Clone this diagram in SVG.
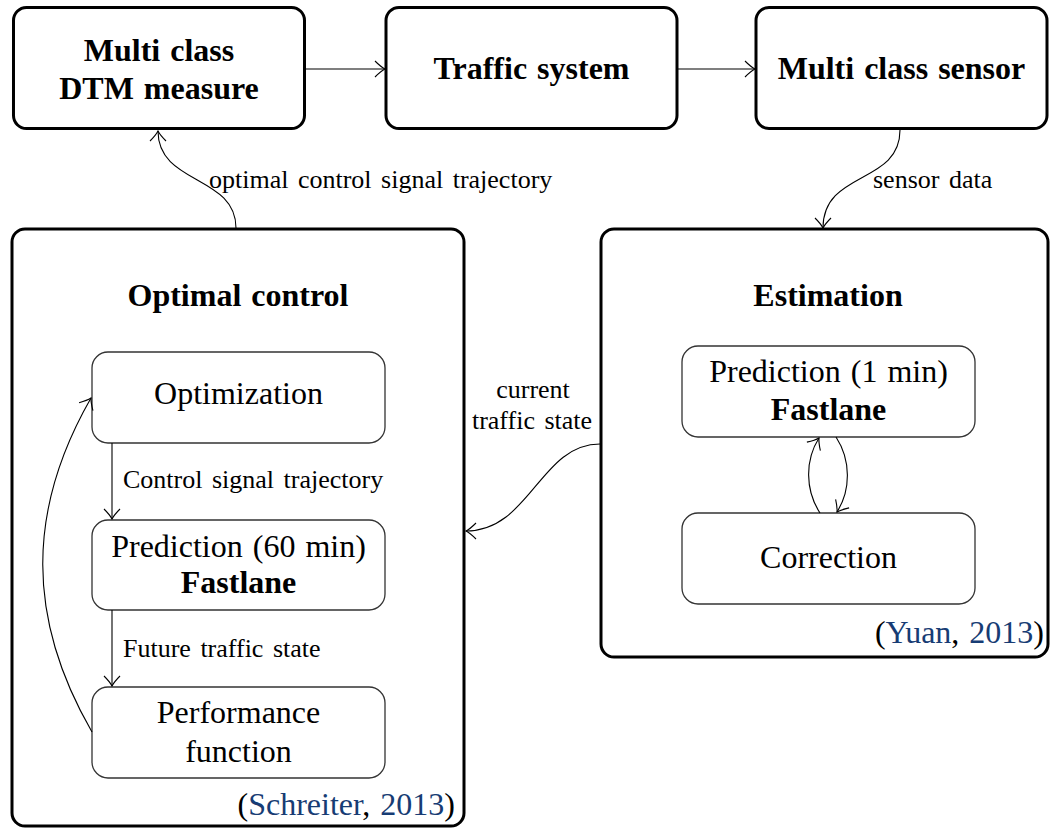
<svg xmlns="http://www.w3.org/2000/svg" width="1050" height="829" viewBox="0 0 1050 829">
  <defs>
    <style>
      .outer { fill: #ffffff; stroke: #000000; stroke-width: 3; }
      .inner { fill: #ffffff; stroke: #333333; stroke-width: 1.3; }
      .big { font-family: "Liberation Serif", "Times New Roman", serif; font-size: 32px; word-spacing: 2px; fill: #000000; }
      .bold { font-weight: bold; }
      .small { font-family: "Liberation Serif", "Times New Roman", serif; font-size: 26px; word-spacing: 3px; fill: #000000; }
      .cite { fill: #173c74; }
      .mid { text-anchor: middle; }
      .end { text-anchor: end; }
      .edge { fill: none; stroke: #000000; stroke-width: 1.1; marker-end: url(#tip); }
    </style>
    <marker id="tip" markerUnits="userSpaceOnUse" markerWidth="24" markerHeight="24" viewBox="-12 -12 24 24" refX="0" refY="0" orient="auto">
      <path d="M -10 -8 C -6 -4 -2 -1 0 0 C -2 1 -6 4 -10 8" fill="none" stroke="#000000" stroke-width="1.1"/>
    </marker>
  </defs>

  <!-- top row -->
  <g id="dtm-measure">
    <rect class="outer" x="13.5" y="7.5" width="291" height="121" rx="13"/>
    <text class="big bold mid" x="159" y="61">Multi class</text>
    <text class="big bold mid" x="159" y="99">DTM measure</text>
  </g>
  <g id="traffic-system">
    <rect class="outer" x="386" y="7.5" width="291" height="121" rx="13"/>
    <text class="big bold mid" x="531.5" y="79">Traffic system</text>
  </g>
  <g id="sensor">
    <rect class="outer" x="756" y="7.5" width="291" height="121" rx="13"/>
    <text class="big bold mid" x="901.5" y="79">Multi class sensor</text>
  </g>

  <!-- optimal control block -->
  <g id="optimal-control">
    <rect class="outer" x="12" y="229" width="452" height="597" rx="13"/>
    <text class="big bold mid" x="238" y="306">Optimal control</text>
    <text class="big end" x="455" y="815">(<tspan class="cite">Schreiter</tspan>, <tspan class="cite">2013</tspan>)</text>
  </g>
  <g id="optimization">
    <rect class="inner" x="92" y="352" width="293" height="91" rx="16"/>
    <text class="big mid" x="238.5" y="404">Optimization</text>
  </g>
  <g id="prediction-60">
    <rect class="inner" x="92" y="520" width="293" height="90" rx="16"/>
    <text class="big mid" x="238.5" y="557">Prediction (60 min)</text>
    <text class="big bold mid" x="238.5" y="593">Fastlane</text>
  </g>
  <g id="performance">
    <rect class="inner" x="92" y="687" width="293" height="91" rx="16"/>
    <text class="big mid" x="238.5" y="723">Performance</text>
    <text class="big mid" x="238.5" y="762">function</text>
  </g>

  <!-- estimation block -->
  <g id="estimation">
    <rect class="outer" x="601" y="229" width="447" height="428" rx="13"/>
    <text class="big bold mid" x="828" y="306">Estimation</text>
    <text class="big end" x="1044" y="643">(<tspan class="cite">Yuan</tspan>, <tspan class="cite">2013</tspan>)</text>
  </g>
  <g id="prediction-1">
    <rect class="inner" x="682" y="346" width="293" height="91" rx="16"/>
    <text class="big mid" x="828.5" y="382">Prediction (1 min)</text>
    <text class="big bold mid" x="828.5" y="420">Fastlane</text>
  </g>
  <g id="correction">
    <rect class="inner" x="682" y="513" width="293" height="91" rx="16"/>
    <text class="big mid" x="828.5" y="568">Correction</text>
  </g>

  <!-- connectors -->
  <g id="connectors">
    <path class="edge" d="M 304 69 L 385 69"/>
    <path class="edge" d="M 677 69 L 755 69"/>
    <path class="edge" d="M 236 228 C 236 175 158 185 158 131"/>
    <path class="edge" d="M 900 130 C 900 185 823 170 823 228"/>
    <path class="edge" d="M 600 444 C 540 444 530 531 466 531"/>
    <path class="edge" d="M 112 443 L 112 519"/>
    <path class="edge" d="M 112 610 L 112 686"/>
    <path class="edge" d="M 92 732 C 26.5 618.6 26.5 510.4 91 398"/>
    <path class="edge" d="M 820 513 C 805 490 805 460 819 438"/>
    <path class="edge" d="M 836 437 C 851 460 851 490 837 512"/>
    <text class="small" x="209" y="188">optimal control signal trajectory</text>
    <text class="small" x="873" y="188">sensor data</text>
    <text class="small mid" x="533" y="398">current</text>
    <text class="small mid" x="532" y="429">traffic state</text>
    <text class="small" x="123" y="488">Control signal trajectory</text>
    <text class="small" x="123" y="657">Future traffic state</text>
  </g>
</svg>
